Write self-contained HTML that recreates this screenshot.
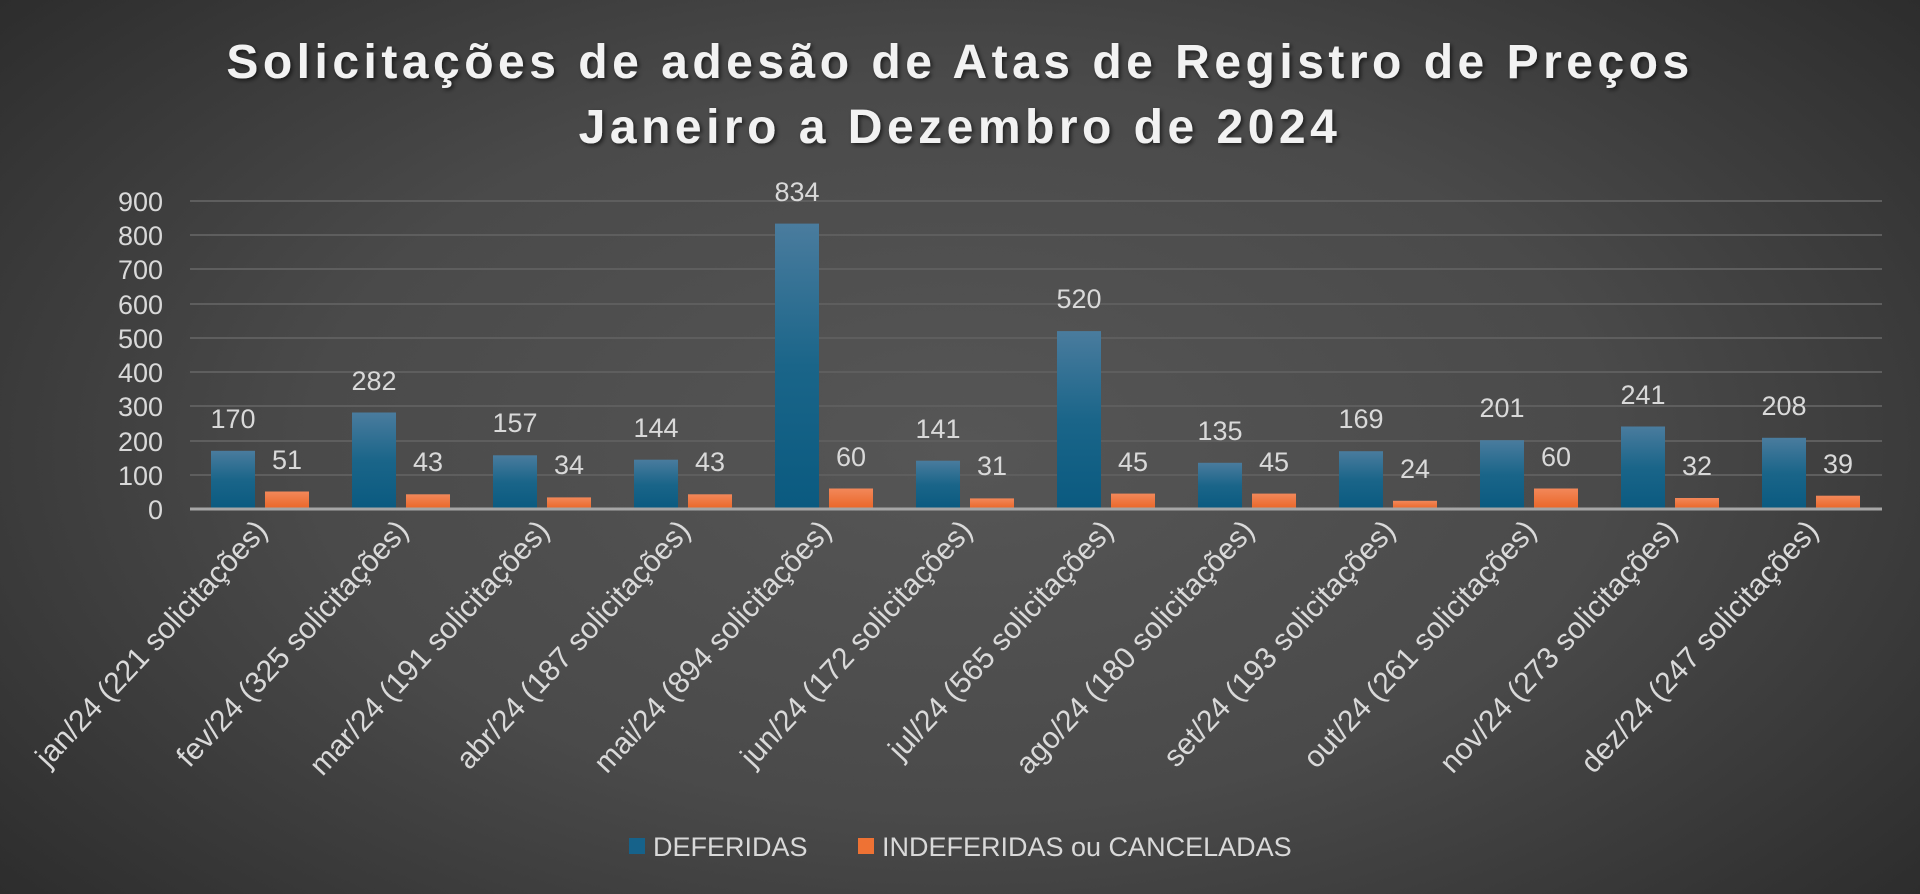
<!DOCTYPE html>
<html><head><meta charset="utf-8"><style>
html,body{margin:0;padding:0;width:1920px;height:894px;overflow:hidden}
body{background:radial-gradient(ellipse 75% 90% at 50% 50%,#565656 0%,#4a4a4a 45%,#2e2e2e 85%,#262626 100%);font-family:"Liberation Sans",sans-serif}
</style></head><body>
<svg width="1920" height="894" xmlns="http://www.w3.org/2000/svg" font-family="Liberation Sans, sans-serif">
<defs>
<linearGradient id="b" x1="0" y1="0" x2="0" y2="1"><stop offset="0" stop-color="#4a7c9e"/><stop offset="0.5" stop-color="#1a6589"/><stop offset="1" stop-color="#0a5a80"/></linearGradient>
<linearGradient id="o" x1="0" y1="0" x2="0" y2="1"><stop offset="0" stop-color="#f2885a"/><stop offset="1" stop-color="#ea6526"/></linearGradient>
<filter id="sh"><feDropShadow dx="2" dy="2" stdDeviation="2" flood-color="#000" flood-opacity="0.6"/></filter>
</defs>
<g filter="url(#sh)" fill="#f2f2f2" font-weight="bold" font-size="48" text-anchor="middle" letter-spacing="4.5">
<text x="960" y="78">Solicitações de adesão de Atas de Registro de Preços</text>
<text x="960" y="143">Janeiro a Dezembro de 2024</text>
</g>
<g stroke="#5e5e5e" stroke-width="2">
<line x1="190" x2="1882" y1="475" y2="475"/><line x1="190" x2="1882" y1="441" y2="441"/><line x1="190" x2="1882" y1="406" y2="406"/><line x1="190" x2="1882" y1="372" y2="372"/><line x1="190" x2="1882" y1="338" y2="338"/><line x1="190" x2="1882" y1="304" y2="304"/><line x1="190" x2="1882" y1="269" y2="269"/><line x1="190" x2="1882" y1="235" y2="235"/><line x1="190" x2="1882" y1="201" y2="201"/>
</g>
<g fill="#d9d9d9" font-size="27" text-anchor="end">
<text x="163" y="519">0</text><text x="163" y="485">100</text><text x="163" y="451">200</text><text x="163" y="416">300</text><text x="163" y="382">400</text><text x="163" y="348">500</text><text x="163" y="314">600</text><text x="163" y="279">700</text><text x="163" y="245">800</text><text x="163" y="211">900</text>
</g>
<g fill="url(#b)">
<rect x="211" y="450.8" width="44" height="58.2"/>
<rect x="352" y="412.5" width="44" height="96.5"/>
<rect x="493" y="455.3" width="44" height="53.7"/>
<rect x="634" y="459.7" width="44" height="49.3"/>
<rect x="775" y="223.6" width="44" height="285.4"/>
<rect x="916" y="460.7" width="44" height="48.3"/>
<rect x="1057" y="331.1" width="44" height="177.9"/>
<rect x="1198" y="462.8" width="44" height="46.2"/>
<rect x="1339" y="451.2" width="44" height="57.8"/>
<rect x="1480" y="440.2" width="44" height="68.8"/>
<rect x="1621" y="426.5" width="44" height="82.5"/>
<rect x="1762" y="437.8" width="44" height="71.2"/>
</g>
<g fill="url(#o)">
<rect x="265" y="491.5" width="44" height="17.5"/>
<rect x="406" y="494.3" width="44" height="14.7"/>
<rect x="547" y="497.4" width="44" height="11.6"/>
<rect x="688" y="494.3" width="44" height="14.7"/>
<rect x="829" y="488.5" width="44" height="20.5"/>
<rect x="970" y="498.4" width="44" height="10.6"/>
<rect x="1111" y="493.6" width="44" height="15.4"/>
<rect x="1252" y="493.6" width="44" height="15.4"/>
<rect x="1393" y="500.8" width="44" height="8.2"/>
<rect x="1534" y="488.5" width="44" height="20.5"/>
<rect x="1675" y="498" width="44" height="11"/>
<rect x="1816" y="495.7" width="44" height="13.3"/>
</g>
<line x1="190" x2="1882" y1="509" y2="509" stroke="#a6a6a6" stroke-width="3"/>
<g fill="#d9d9d9" font-size="27" text-anchor="middle">
<text x="233" y="428">170</text><text x="287" y="469">51</text>
<text x="374" y="390">282</text><text x="428" y="471">43</text>
<text x="515" y="432">157</text><text x="569" y="474">34</text>
<text x="656" y="437">144</text><text x="710" y="471">43</text>
<text x="797" y="201">834</text><text x="851" y="466">60</text>
<text x="938" y="438">141</text><text x="992" y="475">31</text>
<text x="1079" y="308">520</text><text x="1133" y="471">45</text>
<text x="1220" y="440">135</text><text x="1274" y="471">45</text>
<text x="1361" y="428">169</text><text x="1415" y="478">24</text>
<text x="1502" y="417">201</text><text x="1556" y="466">60</text>
<text x="1643" y="404">241</text><text x="1697" y="475">32</text>
<text x="1784" y="415">208</text><text x="1838" y="473">39</text>
</g>
<g fill="#d9d9d9" font-size="30" text-anchor="end">
<text transform="translate(269,532) rotate(-47)">jan/24 (221 solicitações)</text>
<text transform="translate(410,532) rotate(-47)">fev/24 (325 solicitações)</text>
<text transform="translate(551,532) rotate(-47)">mar/24 (191 solicitações)</text>
<text transform="translate(692,532) rotate(-47)">abr/24 (187 solicitações)</text>
<text transform="translate(833,532) rotate(-47)">mai/24 (894 solicitações)</text>
<text transform="translate(974,532) rotate(-47)">jun/24 (172 solicitações)</text>
<text transform="translate(1115,532) rotate(-47)">jul/24 (565 solicitações)</text>
<text transform="translate(1256,532) rotate(-47)">ago/24 (180 solicitações)</text>
<text transform="translate(1397,532) rotate(-47)">set/24 (193 solicitações)</text>
<text transform="translate(1538,532) rotate(-47)">out/24 (261 solicitações)</text>
<text transform="translate(1679,532) rotate(-47)">nov/24 (273 solicitações)</text>
<text transform="translate(1820,532) rotate(-47)">dez/24 (247 solicitações)</text>
</g>
<rect x="629" y="838" width="16" height="16" fill="#16628a"/>
<text x="653" y="856" fill="#d9d9d9" font-size="27">DEFERIDAS</text>
<rect x="858" y="838" width="16" height="16" fill="#ee7234"/>
<text x="882" y="856" fill="#d9d9d9" font-size="27">INDEFERIDAS ou CANCELADAS</text>
</svg>
</body></html>
